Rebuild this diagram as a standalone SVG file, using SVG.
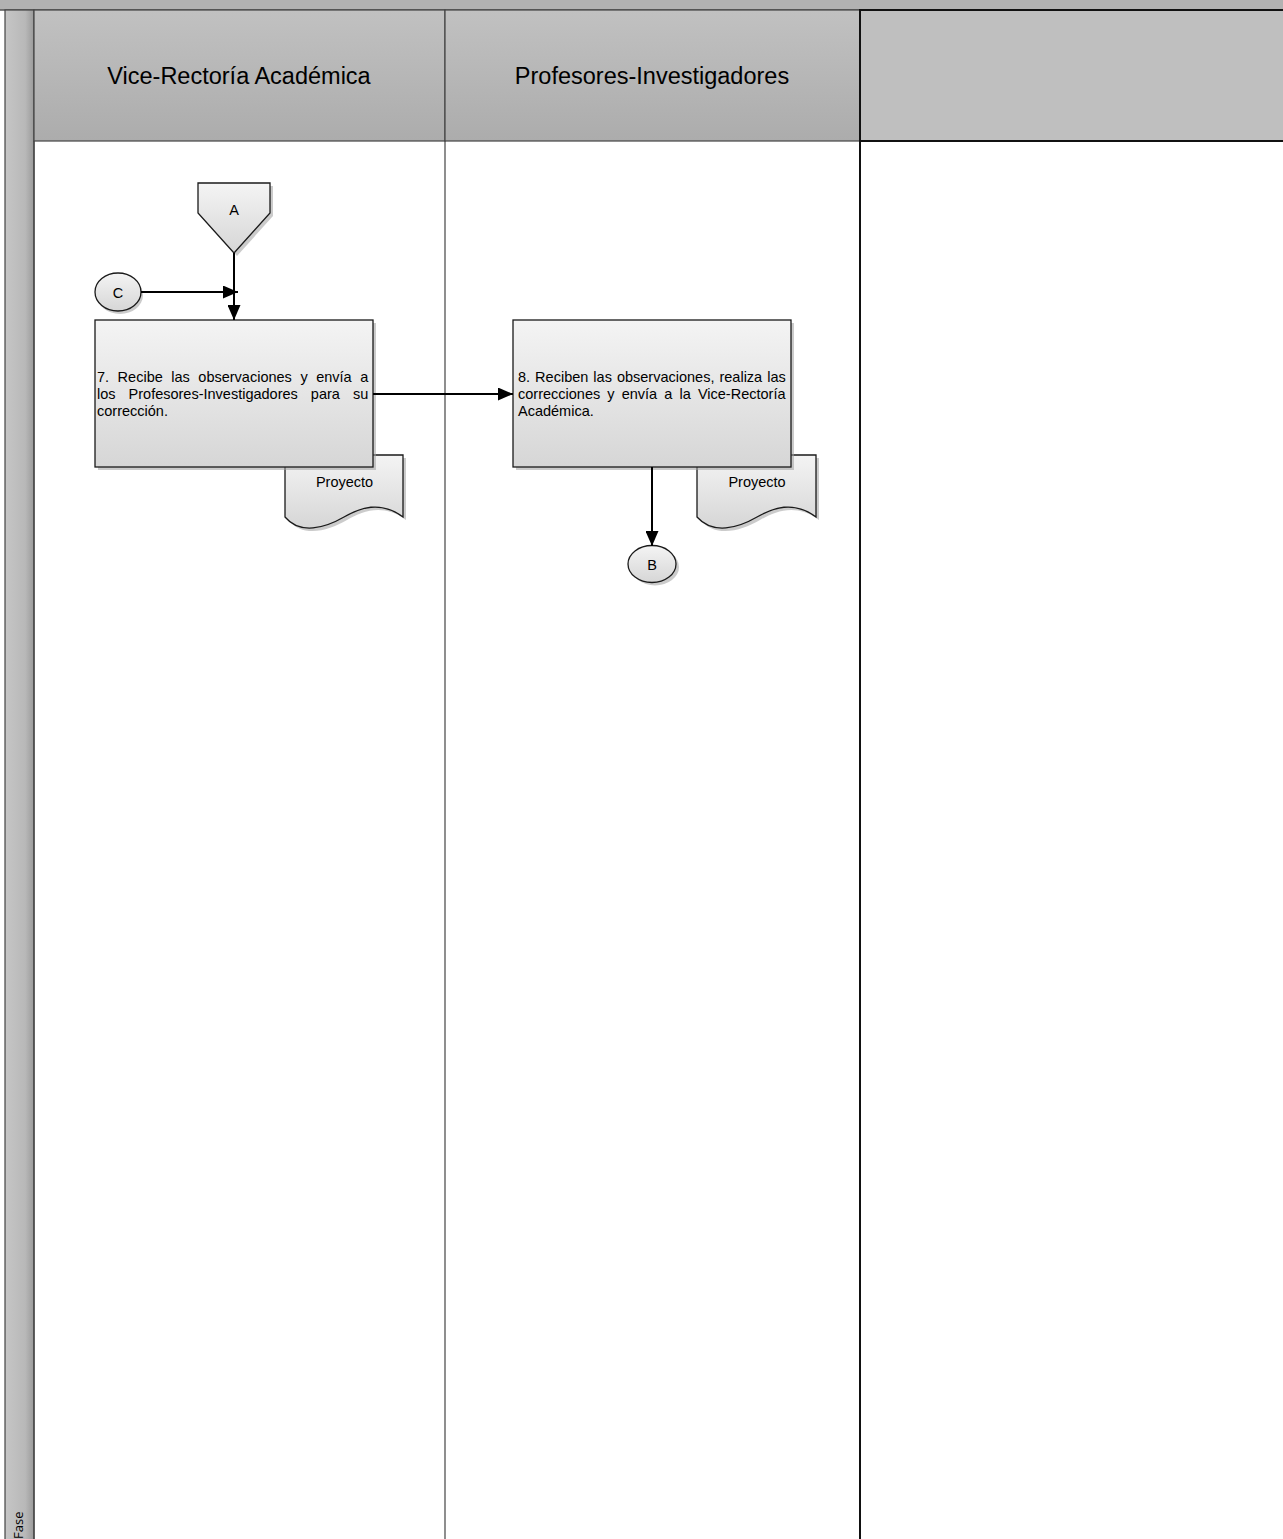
<svg xmlns="http://www.w3.org/2000/svg" width="1283" height="1539" viewBox="0 0 1283 1539">
<defs>
<linearGradient id="hdr" x1="0" y1="0" x2="0" y2="1"><stop offset="0" stop-color="#c1c1c1"/><stop offset="1" stop-color="#acacac"/></linearGradient>
<linearGradient id="phase" x1="0" y1="0" x2="1" y2="0"><stop offset="0" stop-color="#c6c6c6"/><stop offset="0.7" stop-color="#b8b8b8"/><stop offset="1" stop-color="#9a9a9a"/></linearGradient>
<linearGradient id="box" x1="0" y1="0" x2="0" y2="1"><stop offset="0" stop-color="#f4f4f4"/><stop offset="1" stop-color="#d6d6d6"/></linearGradient>
<marker id="arr" viewBox="0 0 15 13" refX="15" refY="6.5" markerWidth="15" markerHeight="13" markerUnits="userSpaceOnUse" orient="auto"><path d="M0,0 L15,6.5 L0,13 Z" fill="#000"/></marker>
<style>
.lbl{font-family:"Liberation Sans",Arial,sans-serif;fill:#000}
.hd{font-size:23.5px;text-anchor:middle}
.tx{font-size:14.5px}
.sm{font-size:14.5px;text-anchor:middle}
.shape{fill:url(#box);stroke:#1a1a1a;stroke-width:1.3}
.shadow{fill:#a0a0a0;opacity:0.55}
.conn{stroke:#000;stroke-width:2;fill:none}
</style>
</defs>
<rect x="0" y="0" width="1283" height="1539" fill="#fff"/>
<g id="pool">
<rect x="0" y="0" width="1283" height="10" fill="#b2b2b2"/>
<line x1="0" y1="10" x2="1283" y2="10" stroke="#555" stroke-width="1.3"/>
<rect x="5" y="10" width="29" height="1530" fill="url(#phase)" stroke="#444" stroke-width="1.2"/>
<text class="lbl" transform="translate(23,1539) rotate(-90)" style="font-family:'Open Sans','DejaVu Sans',sans-serif;font-size:13px">Fase</text>
<rect x="34" y="10" width="411" height="131" fill="url(#hdr)" stroke="#444" stroke-width="1.2"/>
<rect x="445" y="10" width="415" height="131" fill="url(#hdr)" stroke="#444" stroke-width="1.2"/>
<rect x="860" y="10" width="430" height="131" fill="#bfbfbf" stroke="#111" stroke-width="2"/>
<line x1="34" y1="141" x2="34" y2="1540" stroke="#444" stroke-width="1.2"/>
<line x1="445" y1="141" x2="445" y2="1540" stroke="#444" stroke-width="1.2"/>
<line x1="860" y1="141" x2="860" y2="1540" stroke="#111" stroke-width="2"/>
<text class="lbl hd" x="239" y="84">Vice-Rectoría Académica</text>
<text class="lbl hd" x="652" y="84">Profesores-Investigadores</text>
</g>
<g id="doc7">
<path class="shadow" d="M288,458 H406 V520 C383,503 363,511 347,520 C328,531 303,538 288,520 Z"/>
<path class="shape" d="M285,455 H403 V517 C380,500 360,508 344,517 C325,528 300,535 285,517 Z"/>
<text class="lbl sm" x="344.5" y="487">Proyecto</text>
</g>
<g id="doc8">
<path class="shadow" d="M700,458 H819 V520 C796,503 776,511 760,520 C741,531 716,538 700,520 Z"/>
<path class="shape" d="M697,455 H816 V517 C793,500 773,508 757,517 C738,528 713,535 697,517 Z"/>
<text class="lbl sm" x="757" y="487">Proyecto</text>
</g>
<g id="node7">
<rect class="shadow" x="98" y="323" width="278" height="147"/>
<rect class="shape" x="95" y="320" width="278" height="147"/>
<text class="lbl tx" x="97" y="382" word-spacing="4.5">7. Recibe las observaciones y envía a</text>
<text class="lbl tx" x="97" y="399" word-spacing="9">los Profesores-Investigadores para su</text>
<text class="lbl tx" x="97" y="415.5">corrección.</text>
</g>
<g id="node8">
<rect class="shadow" x="516" y="323" width="278" height="147"/>
<rect class="shape" x="513" y="320" width="278" height="147"/>
<text class="lbl tx" x="518" y="382" word-spacing="1">8. Reciben las observaciones, realiza las</text>
<text class="lbl tx" x="518" y="399" word-spacing="3.1">correcciones y envía a la Vice-Rectoría</text>
<text class="lbl tx" x="518" y="415.5">Académica.</text>
</g>
<g id="offpageA">
<path class="shadow" d="M201,186 H273 V216 L237,256 L201,216 Z"/>
<path class="shape" d="M198,183 H270 V213 L234,253 L198,213 Z"/>
<text class="lbl sm" x="234" y="215">A</text>
</g>
<g id="connC">
<ellipse class="shadow" cx="120" cy="295" rx="23" ry="19"/>
<ellipse class="shape" cx="118" cy="292" rx="23" ry="19"/>
<text class="lbl sm" x="118" y="297.5">C</text>
</g>
<g id="connB">
<ellipse class="shadow" cx="655" cy="567" rx="24" ry="18.5"/>
<ellipse class="shape" cx="652" cy="564" rx="24" ry="18.5"/>
<text class="lbl sm" x="652" y="569.5">B</text>
</g>
<g id="connectors">
<path class="conn" d="M234,253 V320" marker-end="url(#arr)"/>
<path class="conn" d="M141,292 H238" marker-end="url(#arr)"/>
<path class="conn" d="M373,394 H513" marker-end="url(#arr)"/>
<path class="conn" d="M652,467 V546" marker-end="url(#arr)"/>
</g>
</svg>
